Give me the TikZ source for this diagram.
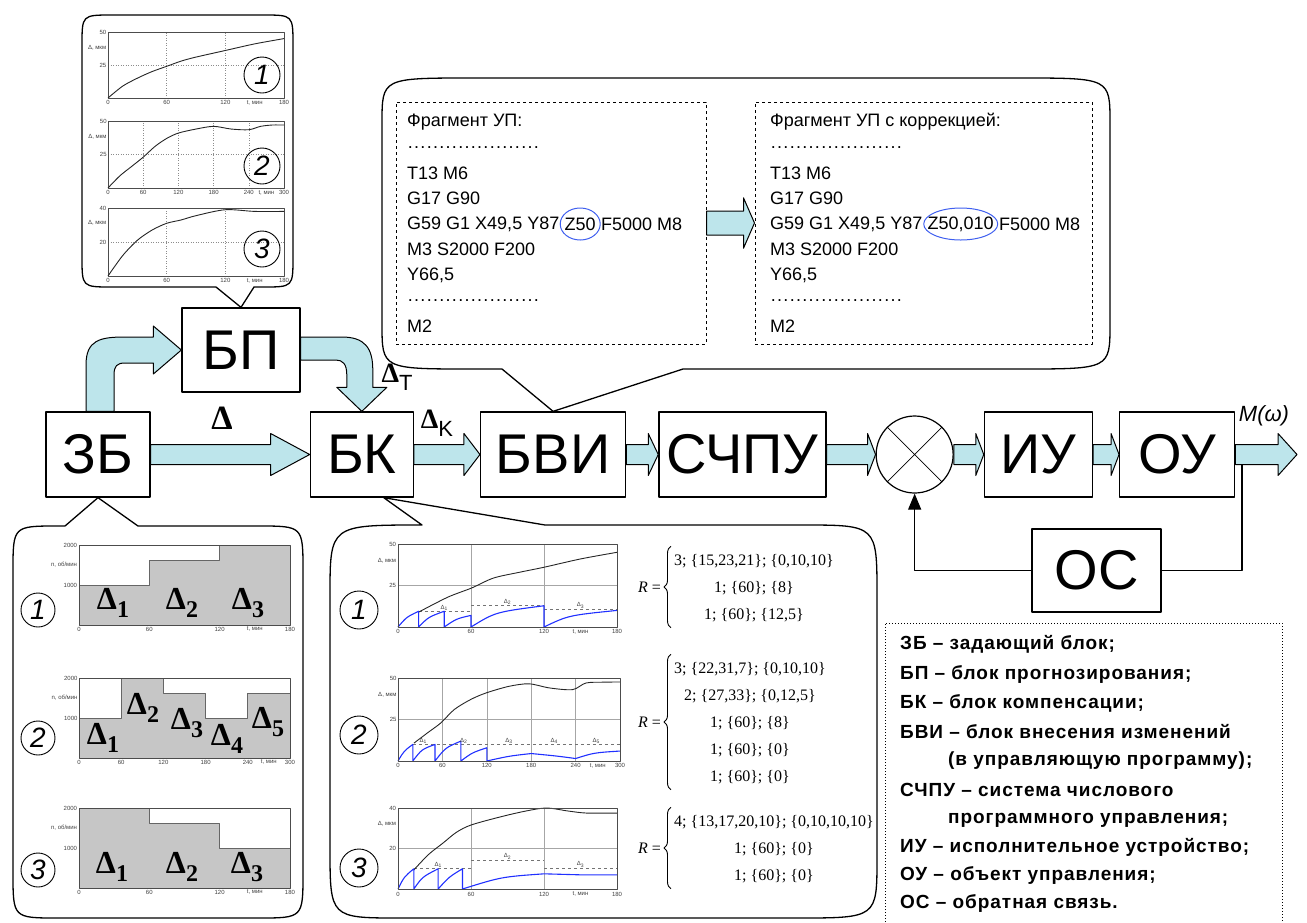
\documentclass[tikz,border=0pt]{standalone}
\usepackage{fontspec}
\setmainfont{Liberation Sans}
\newfontfamily\serifnum{Liberation Serif}
\usetikzlibrary{positioning,shapes.geometric,arrows.meta,calc,decorations.pathreplacing}
\definecolor{arrfill}{HTML}{BDE5EB}
\definecolor{zblue}{HTML}{3F5FEF}
\definecolor{sawblue}{HTML}{2030FF}
\definecolor{fillgray}{HTML}{C6C6C6}

% block arrow between two anchors on one level
\newcommand\fatarrow[4][1]{%
  \draw[fat] let \p1=(#2), \p2=(#3) in
    ({\x1},{\y1+#1*10pt}) -- ({\x2-#4pt},{\y1+#1*10pt}) -- ({\x2-#4pt},{\y1+#1*21pt})
    -- ({\x2},{\y1}) -- ({\x2-#4pt},{\y1-#1*21pt}) -- ({\x2-#4pt},{\y1-#1*10pt})
    -- ({\x1},{\y1-#1*10pt}) -- cycle;}
\newcommand\dsub[1]{{\serifnum\bfseries\fontsize{32}{32}\selectfont Δ\raisebox{-8pt}{\fontsize{24}{24}\selectfont #1}}}
\newcommand\codedots{\makebox[138pt][l]{\leaders\hbox to 6.3pt{\hss.\hss}\hfill}}

\begin{document}
\begin{tikzpicture}[x=1pt,y=-1pt,line join=round,
  blk/.style={draw,line width=1.3pt,minimum height=85pt,inner sep=0pt,
    font=\fontsize{56}{56}\selectfont},
  fat/.style={draw,line width=1pt,fill=arrfill},
  bubble/.style={draw,line width=1.3pt},
  dashbox/.style={draw,dashed,line width=1pt,inner sep=0pt},
  codeln/.style={anchor=west,inner sep=0pt,font=\fontsize{18}{18}\selectfont},
  zring/.style={draw=zblue,line width=1pt},
  frm/.style={draw=black!70,line width=0.7pt},
  grd/.style={draw=black!45,dotted,line width=0.5pt},
  grdl/.style={draw=black!35,line width=0.6pt},
  crvk/.style={draw=black!85,line width=0.9pt},
  crvb/.style={draw=sawblue,line width=1.1pt},
  lvl/.style={draw=black!55,dashed,line width=0.6pt},
  stepl/.style={draw=black!60,line width=0.8pt},
  tickl/.style={inner sep=0.6pt,text=black!75,font=\fontsize{6}{6}\selectfont},
  numc/.style={draw,circle,line width=0.9pt,inner sep=0pt,minimum size=36pt,
    font=\fontsize{28}{28}\selectfont\itshape},
  rform/.style={anchor=west,inner sep=0pt,font=\serifnum\fontsize{16}{27}\selectfont},
  rbrace/.style={decorate,decoration={brace,amplitude=7pt},line width=0.9pt},
  legln/.style={anchor=base west,inner sep=0pt,
    font=\fontsize{19}{19}\selectfont\bfseries\addfontfeature{LetterSpace=5}}]
\useasboundingbox (0,0) rectangle (1307,922);

% main chain
\node[blk,minimum width=104pt] (zb) at (98,454.5) {ЗБ};
\node[blk,minimum width=103pt,right=159pt of zb] (bk) {БК};
\node[blk,minimum width=145pt,right=66pt of bk] (bvi) {БВИ};
\node[blk,minimum width=167pt,right=32pt of bvi] (schpu) {СЧПУ};
\node[draw,line width=1.2pt,circle,minimum size=77pt,inner sep=0pt,right=49pt of schpu] (sum) {};
\node[blk,minimum width=108pt,right=30pt of sum] (iu) {ИУ};
\node[blk,minimum width=115pt,right=26pt of iu] (ou) {ОУ};
\node[blk,minimum width=118pt,minimum height=84pt] (bp) at (241,350) {БП};
\node[blk,minimum width=129pt,minimum height=83pt] (os) at (1096.5,570.5) {ОС};
\draw[line width=0.8pt] (sum.north west) -- (sum.south east) (sum.north east) -- (sum.south west);
\coordinate (fb) at (1242,454.5);
\coordinate (out) at (1297,454.5);
\coordinate (bkp) at ($(bk.south)!0.42!(bk.south east)$);

% feedback
\draw[line width=1.2pt] (fb) |- (os.east);
\draw[line width=1.2pt,-{Triangle[length=16pt,width=13pt]}] (os.west) -| (sum.south);

% block arrows
\fatarrow{zb.east}{bk.west}{39}
\fatarrow{bk.east}{bvi.west}{16}
\fatarrow{bvi.east}{schpu.west}{10}
\fatarrow{schpu.east}{sum.west}{8}
\fatarrow{sum.east}{iu.west}{8}
\fatarrow{iu.east}{ou.west}{8}
\fatarrow{ou.east}{out}{19}
\draw[fat] let \p1=(zb.north), \p2=(bp.west) in
  ({\x1-12pt},{\y1}) -- ({\x1-12pt},{\y2-15pt})
  .. controls ({\x1-12pt},{\y2+10pt}) and ({\x1+2pt},{\y2+13pt}) .. ({\x1+27pt},{\y2+13pt})
  -- ({\x2-28pt},{\y2+13pt}) -- ({\x2-28pt},{\y2+24pt}) -- (\p2) -- ({\x2-28pt},{\y2-24pt})
  -- ({\x2-28pt},{\y2-13pt}) -- ({\x1+27pt},{\y2-13pt})
  .. controls ({\x1+19pt},{\y2-13pt}) and ({\x1+16pt},{\y2-16pt}) .. ({\x1+16pt},{\y2-25pt})
  -- ({\x1+16pt},{\y1}) -- cycle;
\draw[fat] let \p1=(bp.east), \p2=(bk.north) in
  ({\x1},{\y1+13pt}) -- ({\x2-20pt},{\y1+13pt})
  .. controls ({\x2+3pt},{\y1+13pt}) and ({\x2+11pt},{\y1+2pt}) .. ({\x2+11pt},{\y1-20pt})
  -- ({\x2+11pt},{\y2+24pt}) -- ({\x2+25pt},{\y2+24pt}) -- (\p2) -- ({\x2-25pt},{\y2+24pt})
  -- ({\x2-15pt},{\y2+24pt}) -- ({\x2-15pt},{\y1-25pt})
  .. controls ({\x2-15pt},{\y1-14pt}) and ({\x2-19pt},{\y1-10pt}) .. ({\x2-26pt},{\y1-10pt})
  -- ({\x1},{\y1-10pt}) -- cycle;
\node[inner sep=0pt,font=\serifnum\bfseries\fontsize{34}{34}\selectfont] (dl) at (222,418) {Δ};
\node[inner sep=0pt] (dlt) at (397,377) {{\serifnum\bfseries\fontsize{28}{28}\selectfont Δ}\raisebox{-8pt}{\fontsize{22}{22}\selectfont T}};
\node[inner sep=0pt] (dlk) at (437,423) {{\serifnum\bfseries\fontsize{28}{28}\selectfont Δ}\raisebox{-8pt}{\fontsize{22}{22}\selectfont K}};
\node[inner sep=0pt,font=\fontsize{22}{22}\selectfont\itshape] (mw) at (1264,416) {M(ω)};

% callouts
\draw[bubble] (112,15) -- (263,15) .. controls (293,15) .. (293,45) -- (293,257)
  .. controls (293,287) .. (263,287) -- (254,287) -- (bp.north) -- (216,287) -- (112,287)
  .. controls (82,287) .. (82,257) -- (82,45) .. controls (82,15) .. (112,15) -- cycle;
\draw[bubble] (472,78) -- (1020,78) .. controls (1110,78) .. (1110,123) -- (1110,324)
  .. controls (1110,369) .. (1020,369) -- (683,369) -- (bvi.north) -- (502,369) -- (472,369)
  .. controls (382,369) .. (382,324) -- (382,123) .. controls (382,78) .. (472,78) -- cycle;
\draw[bubble] (13,571) .. controls (13,526) .. (58,526) -- (65,526) -- (zb.south) -- (138,526)
  -- (258,526) .. controls (303,526) .. (303,571) -- (303,873) .. controls (303,918) .. (258,918)
  -- (58,918) .. controls (13,918) .. (13,873) -- cycle;
\draw[bubble] (330,595) .. controls (330,525) .. (422,525) -- (bkp) -- (545,525) -- (802,525)
  .. controls (877,525) .. (877,595) -- (877,858) .. controls (877,918) .. (797,918) -- (400,918)
  .. controls (330,918) .. (330,848) -- cycle;

% program fragments
\node[dashbox,minimum width=310pt,minimum height=242pt] (cl) at (551,223) {};
\node[dashbox,minimum width=337pt,minimum height=242pt] (cr) at (923.5,223) {};
\fatarrow[1.2]{cl.east}{cr.west}{11}
\node[codeln] (pat) at (407,122) {Фрагмент УП:};
\node[codeln] (pbt) at (770,122) {Фрагмент УП с коррекцией:};
\foreach \ln/\yy [count=\i] in {{\codedots}/147.5,{T13 M6}/173,{G17 G90}/198.5,
    {M3 S2000 F200}/249.5,{Y66,5}/275,{\codedots}/300.5,{M2}/326}{
  \node[codeln] (pa\i) at (407,\yy) {\ln};
  \node[codeln] (pb\i) at (770,\yy) {\ln};}
\node[codeln] (ga) at (407,224) {G59 G1 X49,5 Y87};
\node[codeln,right=5pt of ga] (za) {Z50};
\node[codeln,right=5pt of za] (ga2) {F5000 M8};
\node[codeln] (gb) at (770,224) {G59 G1 X49,5 Y87};
\node[codeln,right=5pt of gb] (zb2) {Z50,010};
\node[codeln,right=5pt of zb2] (gb2) {F5000 M8};
\draw[zring] (za) ellipse [x radius=20pt,y radius=16pt];
\draw[zring] (zb2) ellipse [x radius=37pt,y radius=16pt];

% forecast curves
\begin{scope}[shift={(108,98)},x=0.9778pt,y=1.32pt]
  \foreach \tv in {60,120} \draw[grd] (\tv,0) -- (\tv,50);
  \draw[grd] (0,25) -- (180,25);
  \draw[frm] (0,0) rectangle (180,50);
  \draw[crvk] plot[smooth] coordinates {(0,0) (15,9) (30,15) (45,20) (60,24) (75,28) (90,31) (120,36) (150,41) (180,45)};
  \foreach \tv in {0,60,120,180} \node[tickl,below] at (\tv,-1) {\tv};
  \node[tickl,below] at (150,-1) {t, мин};
  \foreach \vv in {25,50} \node[tickl,left] at (-1,\vv) {\vv};
  \node[tickl,left] at (-1,38) {Δ, мкм};
\end{scope}
\begin{scope}[shift={(108,188)},x=0.5867pt,y=1.34pt]
  \foreach \tv in {60,120,180,240} \draw[grd] (\tv,0) -- (\tv,50);
  \draw[grd] (0,25) -- (300,25);
  \draw[frm] (0,0) rectangle (300,50);
  \draw[crvk] plot[smooth] coordinates {(0,0) (20,9) (40,16) (60,23) (80,31) (100,37) (120,41) (150,44) (180,46) (210,44) (240,43.5) (260,46) (280,47) (300,47)};
  \foreach \tv in {0,60,120,180,240,300} \node[tickl,below] at (\tv,-1) {\tv};
  \node[tickl,below] at (270,-1) {t, мин};
  \foreach \vv in {25,50} \node[tickl,left] at (-1,\vv) {\vv};
  \node[tickl,left] at (-1,38) {Δ, мкм};
\end{scope}
\begin{scope}[shift={(108,276)},x=0.9778pt,y=1.7pt]
  \foreach \tv in {60,120} \draw[grd] (\tv,0) -- (\tv,40);
  \draw[grd] (0,20) -- (180,20);
  \draw[frm] (0,0) rectangle (180,40);
  \draw[crvk] plot[smooth] coordinates {(0,0) (15,12) (30,21) (45,27) (60,31) (75,33) (90,35.5) (120,39) (150,38) (180,38)};
  \foreach \tv in {0,60,120,180} \node[tickl,below] at (\tv,-1) {\tv};
  \node[tickl,below] at (150,-1) {t, мин};
  \foreach \vv in {20,40} \node[tickl,left] at (-1,\vv) {\vv};
  \node[tickl,left] at (-1,31) {Δ, мкм};
\end{scope}
\node[numc] (f1) at (262,75) {1};
\node[numc] (f2) at (262,166) {2};
\node[numc] (f3) at (262,249) {3};

% spindle speed programs
\begin{scope}[shift={(79,625)},x=1.1722pt,y=0.04pt]
  \fill[fillgray] (0,0) -- (0,1000) -- (60,1000) -- (60,1625) -- (120,1625) -- (120,2000) -- (180,2000) -- (180,0) -- cycle;
  \draw[stepl] (0,1000) -- (60,1000) -- (60,1625) -- (120,1625) -- (120,2000);
  \draw[frm] (0,0) rectangle (180,2000);
  \foreach \tv in {0,60,120,180} \node[tickl,below] at (\tv,-30) {\tv};
  \node[tickl,below] at (150,-30) {t, мин};
  \foreach \vv in {1000,2000} \node[tickl,left] at (-1,\vv) {\vv};
  \node[tickl,left] at (-1,1500) {n, об/мин};
\end{scope}
\begin{scope}[shift={(79,758)},x=0.7033pt,y=0.04pt]
  \fill[fillgray] (0,0) -- (0,1000) -- (60,1000) -- (60,2000) -- (120,2000) -- (120,1625) -- (180,1625) -- (180,1000) -- (240,1000) -- (240,1625) -- (300,1625) -- (300,0) -- cycle;
  \draw[stepl] (0,1000) -- (60,1000) -- (60,2000) -- (120,2000) -- (120,1625) -- (180,1625) -- (180,1000) -- (240,1000) -- (240,1625) -- (300,1625);
  \draw[frm] (0,0) rectangle (300,2000);
  \foreach \tv in {0,60,120,180,240,300} \node[tickl,below] at (\tv,-30) {\tv};
  \node[tickl,below] at (270,-30) {t, мин};
  \foreach \vv in {1000,2000} \node[tickl,left] at (-1,\vv) {\vv};
  \node[tickl,left] at (-1,1500) {n, об/мин};
\end{scope}
\begin{scope}[shift={(79,888)},x=1.1722pt,y=0.04pt]
  \fill[fillgray] (0,0) -- (0,2000) -- (60,2000) -- (60,1625) -- (120,1625) -- (120,1000) -- (180,1000) -- (180,0) -- cycle;
  \draw[stepl] (60,2000) -- (60,1625) -- (120,1625) -- (120,1000) -- (180,1000);
  \draw[frm] (0,0) rectangle (180,2000);
  \foreach \tv in {0,60,120,180} \node[tickl,below] at (\tv,-30) {\tv};
  \node[tickl,below] at (150,-30) {t, мин};
  \foreach \vv in {1000,2000} \node[tickl,left] at (-1,\vv) {\vv};
  \node[tickl,left] at (-1,1500) {n, об/мин};
\end{scope}
\node[numc,minimum size=34pt] (s1) at (38,610) {1};
\node[numc,minimum size=34pt] (s2) at (38,738) {2};
\node[numc,minimum size=34pt] (s3) at (38,870) {3};
\foreach \dd/\xx/\yy [count=\i] in {1/113/603,2/182/603,3/248/603,1/103/738,2/143/708,3/187/723,
    4/227/739,5/268/722,1/112/867,2/182/867,3/247/867}
  \node[inner sep=0pt] (dd\i) at (\xx,\yy) {\dsub{\dd}};

% compensation
\begin{scope}[shift={(398,627)},x=1.2167pt,y=1.66pt]
  \foreach \tv in {60,120} \draw[grdl] (\tv,0) -- (\tv,50);
  \draw[grdl] (0,25) -- (180,25);
  \draw[lvl] (17,9.5) -- (60,9.5) (60,12.8) -- (120,12.8) (120,10.8) -- (180,10.8);
  \draw[crvk] plot[smooth] coordinates {(17,9) (41,18) (60.5,23.5) (78.5,29.5) (100,33) (120,36) (150,41) (180,45)};
  \draw[crvb] (0,0) .. controls (7,6) .. (17,9.5) -- (17,0) .. controls (25,6) .. (38,9.5) -- (38,0)
    .. controls (48,5) .. (60,7) -- (60,0) .. controls (80,9) .. (120,12.8) -- (120,0) .. controls (140,7) .. (180,10);
  \draw[frm] (0,0) rectangle (180,50);
  \foreach \tv in {0,60,120,180} \node[tickl,below] at (\tv,-1) {\tv};
  \node[tickl,below] at (150,-1) {t, мин};
  \foreach \vv in {25,50} \node[tickl,left] at (-1,\vv) {\vv};
  \node[tickl,left] at (-1,40) {Δ, мкм};
  \foreach \kk/\tv/\vv in {1/38/9.5,2/90/12.8,3/150/10.8} \node[tickl,above] at (\tv,\vv) {Δ\textsubscript{\kk}};
\end{scope}
\begin{scope}[shift={(398,761)},x=0.74pt,y=1.66pt]
  \foreach \tv in {60,120,180,240} \draw[grdl] (\tv,0) -- (\tv,50);
  \draw[grdl] (0,25) -- (300,25);
  \draw[lvl] (20,10) -- (300,10);
  \draw[crvk] plot[smooth] coordinates {(21.6,10.8) (40,17) (58,23) (76,31) (98,37) (119,41) (150,45) (177,46.5) (205,44) (236,43) (254,47) (280,47.5) (300,47.6)};
  \draw[crvb] (0,0) .. controls (8,6) .. (20,10) -- (20,0) .. controls (32,7) .. (50,10) -- (50,0)
    .. controls (64,8) .. (85,12) -- (85,0) .. controls (100,5) .. (120,8) -- (120,0)
    .. controls (150,3) .. (180,4.5) .. controls (215,3) .. (240,1.5) .. controls (265,5) .. (300,6);
  \draw[frm] (0,0) rectangle (300,50);
  \foreach \tv in {0,60,120,180,240,300} \node[tickl,below] at (\tv,-1) {\tv};
  \node[tickl,below] at (270,-1) {t, мин};
  \foreach \vv in {25,50} \node[tickl,left] at (-1,\vv) {\vv};
  \node[tickl,left] at (-1,40) {Δ, мкм};
  \foreach \kk/\tv in {1/34,2/89,3/150,4/211,5/268} \node[tickl,above] at (\tv,10) {Δ\textsubscript{\kk}};
\end{scope}
\begin{scope}[shift={(398,889)},x=1.2167pt,y=2.025pt]
  \foreach \tv in {60,120} \draw[grdl] (\tv,0) -- (\tv,40);
  \draw[grdl] (0,20) -- (180,20);
  \draw[lvl] (13,10) -- (60,10) (60,14.3) -- (120,14.3) (120,10.3) -- (180,10.3);
  \draw[crvk] plot[smooth] coordinates {(13,9.4) (25,17) (37,22.7) (48,28) (60,31.6) (84,35.6) (105,38.5) (122,40) (140,38.5) (155,37.5) (180,37.5)};
  \draw[crvb] (0,0) .. controls (5,6) .. (13,10) -- (13,0) .. controls (20,6) .. (33,10) -- (33,0)
    .. controls (42,6) .. (53,10) -- (53,0) .. controls (85,6) .. (120,7.5) -- (150,7) -- (180,7);
  \draw[frm] (0,0) rectangle (180,40);
  \foreach \tv in {0,60,120,180} \node[tickl,below] at (\tv,-1) {\tv};
  \node[tickl,below] at (150,-1) {t, мин};
  \foreach \vv in {20,40} \node[tickl,left] at (-1,\vv) {\vv};
  \node[tickl,left] at (-1,32) {Δ, мкм};
  \foreach \kk/\tv/\vv in {1/33/10,2/90/14.3,3/150/10.3} \node[tickl,above] at (\tv,\vv) {Δ\textsubscript{\kk}};
\end{scope}
\node[numc,minimum size=38pt] (c1) at (359,610) {1};
\node[numc,minimum size=38pt] (c2) at (359,735) {2};
\node[numc,minimum size=38pt] (c3) at (359,868) {3};

% restriction sets
\node[rform] (r1) at (674,587) {\begin{tabular}{@{}c@{}}3; \{15,23,21\}; \{0,10,10\}\\
  1; \{60\}; \{8\}\\ 1; \{60\}; \{12,5\}\end{tabular}};
\node[rform] (r2) at (674,722) {\begin{tabular}{@{}c@{}}3; \{22,31,7\}; \{0,10,10\}\\
  2; \{27,33\}; \{0,12,5\}\\ 1; \{60\}; \{8\}\\ 1; \{60\}; \{0\}\\ 1; \{60\}; \{0\}\end{tabular}};
\node[rform] (r3) at (674,848) {\begin{tabular}{@{}c@{}}4; \{13,17,20,10\}; \{0,10,10,10\}\\
  1; \{60\}; \{0\}\\ 1; \{60\}; \{0\}\end{tabular}};
\foreach \rr in {r1,r2,r3}{
  \draw[rbrace] ([xshift=-3pt]\rr.south west) -- ([xshift=-3pt]\rr.north west);
  \node[rform,anchor=east] (\rr eq) at ([xshift=-13pt]\rr.west) {\textit{R} =};}

% legend
\draw[dotted,line width=1pt] (885,922) -- (885,623) -- (1282,623) -- (1282,922);
\foreach \lt/\xx/\yy [count=\i] in {{ЗБ – задающий блок;}/900/649,{БП – блок прогнозирования;}/900/679,
    {БК – блок компенсации;}/900/708,{БВИ – блок внесения изменений}/900/738,
    {(в управляющую программу);}/948/765,{СЧПУ – система числового}/900/796,
    {программного управления;}/948/823,{ИУ – исполнительное устройство;}/900/852,
    {ОУ – объект управления;}/900/880,{ОС – обратная связь.}/900/908}
  \node[legln] (lg\i) at (\xx,\yy) {\lt};
\end{tikzpicture}
\end{document}
